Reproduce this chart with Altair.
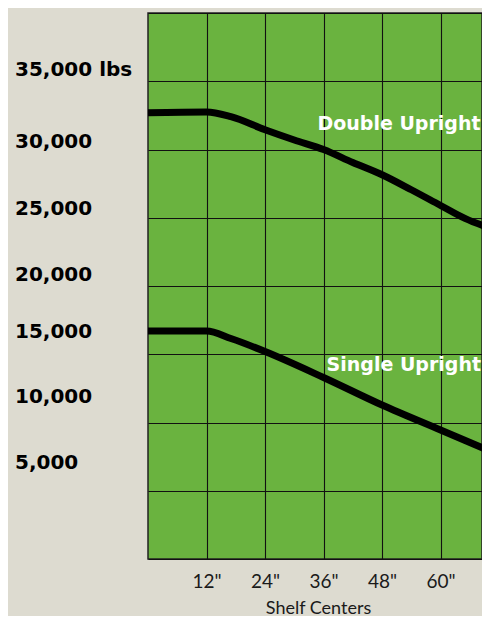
import altair as alt
import pandas as pd

# ---- data ----
shelf_in_double = [0, 12, 17, 24, 30, 36, 42, 48, 54, 60, 65, 70]
capacity_double = [32700, 32750, 32400, 31450, 30700, 30000, 29050, 28150, 27050, 25900, 24950, 24250]

shelf_in_single = [0, 12, 17, 24, 36, 48, 60, 70]
capacity_single = [16700, 16700, 16150, 15200, 13300, 11280, 9450, 7930]

x_tick_values = [12, 24, 36, 48, 60]
y_grid_values = [0, 5000, 10000, 15000, 20000, 25000, 30000, 35000, 40000]

y_label_text = ["35,000 lbs", "30,000", "25,000", "20,000", "15,000", "10,000", "5,000"]
y_label_value = [35800, 30550, 25650, 20800, 16650, 11870, 7030]

series_names = ["Double Upright", "Single Upright"]
series_label_x = [68.2, 68.3]
series_label_y = [31900, 14200]

# ---- tables ----
lines_df = pd.concat([
    pd.DataFrame({"shelf": shelf_in_double, "cap": capacity_double, "series": series_names[0]}),
    pd.DataFrame({"shelf": shelf_in_single, "cap": capacity_single, "series": series_names[1]}),
])
ylab_df = pd.DataFrame({"text": y_label_text, "cap": y_label_value})
slab_df = pd.DataFrame({"text": series_names, "shelf": series_label_x, "cap": series_label_y})

x_scale = alt.Scale(domain=[0, 68.5], nice=False, zero=False)
y_scale = alt.Scale(domain=[0, 40000], nice=False)

x_axis = alt.Axis(
    values=x_tick_values, grid=True, ticks=False, domain=False,
    labelExpr='datum.value + "\\""', labelFont="Lato", labelFontSize=19,
    labelColor="#1a1a1a", labelPadding=13,
    title="Shelf Centers", titleFont="Lato", titleFontSize=18,
    titleFontWeight="normal", titleColor="#1a1a1a", titlePadding=8,
    titleX=170,
    gridColor="#111111", gridWidth=1.1, gridOpacity=1,
)
y_axis = alt.Axis(
    values=y_grid_values, grid=True, ticks=False, domain=False, labels=False,
    title=None, gridColor="#111111", gridWidth=1.1, gridOpacity=1,
)

lines = alt.Chart(lines_df).mark_line(
    strokeWidth=7, color="black", interpolate="monotone", strokeCap="butt",
    clip=True,
).encode(
    x=alt.X("shelf:Q", scale=x_scale, axis=x_axis),
    y=alt.Y("cap:Q", scale=y_scale, axis=y_axis),
    detail="series:N",
)

series_labels = alt.Chart(slab_df).mark_text(
    font="DejaVu Sans", fontWeight="bold", fontSize=19, color="white",
    align="right", baseline="middle",
).encode(
    x=alt.X("shelf:Q", scale=x_scale),
    y=alt.Y("cap:Q", scale=y_scale),
    text="text:N",
)

y_labels = alt.Chart(ylab_df).mark_text(
    font="DejaVu Sans", fontWeight="bold", fontSize=20, color="black",
    align="left", baseline="middle",
).encode(
    x=alt.value(-133),
    y=alt.Y("cap:Q", scale=y_scale),
    text="text:N",
)

chart = alt.layer(lines, series_labels, y_labels).properties(
    width=334,
    height=546,
    padding={"left": 140, "top": 5, "right": 0, "bottom": 57},
    autosize=alt.AutoSizeParams(type="none"),
    background="#dddbd0",
).configure_view(
    fill="#6ab33f", stroke="#222222", strokeWidth=1.5
)

chart.save("out.html", embed_options={"renderer": "svg", "actions": False})
